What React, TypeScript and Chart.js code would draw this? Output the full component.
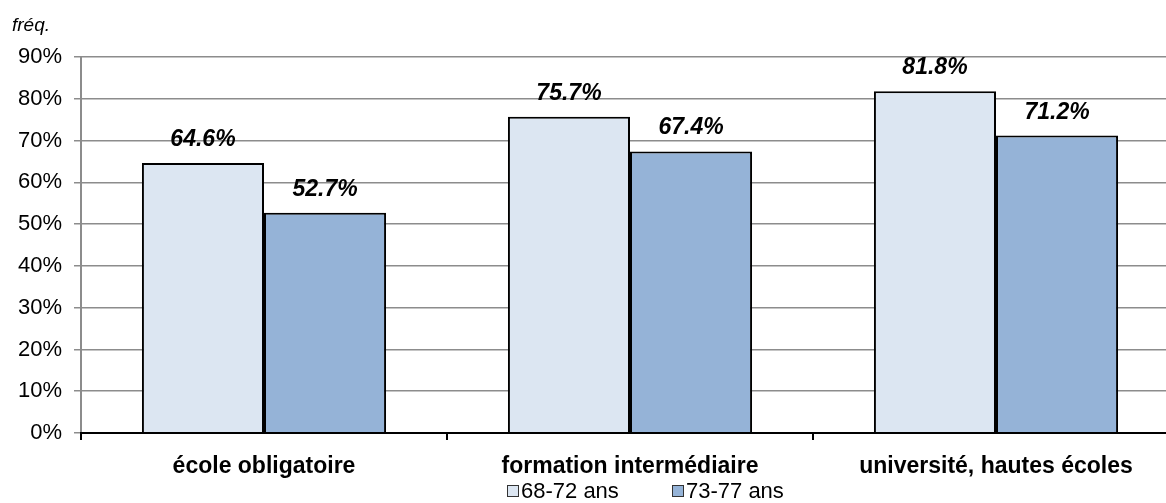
import React, { useEffect, useRef } from "react";
import { Chart, registerables } from "chart.js";

Chart.register(...registerables);

const categories = ["école obligatoire", "formation intermédiaire", "université, hautes écoles"];
const seriesNames = ["68-72 ans", "73-77 ans"];
const series1 = [64.6, 75.7, 81.8];
const series2 = [52.7, 67.4, 71.2];
const yTicks = [0, 10, 20, 30, 40, 50, 60, 70, 80, 90];
const colors = ["#DCE6F2", "#95B3D7"];
const FONT = "Arial, 'Liberation Sans', sans-serif";

const labelPlugin = {
  id: "barLabels",
  afterDatasetsDraw(chart: any) {
    const ctx = chart.ctx;
    ctx.save();
    ctx.font = `italic bold 23px ${FONT}`;
    ctx.fillStyle = "#000";
    ctx.textAlign = "center";
    ctx.textBaseline = "alphabetic";
    chart.data.datasets.forEach((ds: any, di: number) => {
      const meta = chart.getDatasetMeta(di);
      meta.data.forEach((el: any, i: number) => {
        const v = ds.data[i];
        ctx.fillText(v.toFixed(1) + "%", el.x, el.y - 17);
      });
    });
    ctx.restore();
  },
  afterDraw(chart: any) {
    const ctx = chart.ctx;
    ctx.save();
    // axis caption
    ctx.font = `italic 19px ${FONT}`;
    ctx.fillStyle = "#000";
    ctx.textAlign = "left";
    ctx.textBaseline = "middle";
    ctx.fillText("fréq.", 12, 26);
    // legend
    const boxXs = [507, 672];
    const cy = 491;
    ctx.font = `22px ${FONT}`;
    chart.data.datasets.forEach((ds: any, i: number) => {
      const bx = boxXs[i];
      ctx.fillStyle = ds.backgroundColor;
      ctx.fillRect(bx + 0.5, cy - 5.5, 11, 11);
      ctx.strokeStyle = "#333";
      ctx.lineWidth = 1;
      ctx.strokeRect(bx + 0.5, cy - 5.5, 11, 11);
      ctx.fillStyle = "#000";
      ctx.fillText(ds.label, bx + 14, cy + 1);
    });
    ctx.restore();
  },
};

export default function App() {
  const ref = useRef<HTMLCanvasElement>(null);
  useEffect(() => {
    document.body.style.margin = "0";
    const chart = new Chart(ref.current!, {
      type: "bar",
      data: {
        labels: categories,
        datasets: [
          {
            label: seriesNames[0],
            data: series1,
            backgroundColor: colors[0],
            borderColor: "#000",
            borderWidth: 2,
            barPercentage: 1,
            categoryPercentage: 0.667,
          },
          {
            label: seriesNames[1],
            data: series2,
            backgroundColor: colors[1],
            borderColor: "#000",
            borderWidth: 2,
            barPercentage: 1,
            categoryPercentage: 0.667,
          },
        ],
      },
      options: {
        animation: false,
        responsive: true,
        maintainAspectRatio: false,
        layout: { padding: { top: 57, right: 0, left: 0, bottom: 0 } },
        plugins: {
          tooltip: { enabled: false },
          legend: { display: false },
        },
        scales: {
          x: {
            grid: {
              display: true,
              drawOnChartArea: false,
              drawTicks: true,
              tickLength: 7,
              color: "#000",
              lineWidth: 2,
              offset: true,
            },
            border: { display: true, color: "#000", width: 2, z: 1 },
            ticks: {
              color: "#000",
              font: { family: FONT, size: 23, weight: "bold" },
              padding: 13,
              maxRotation: 0,
              autoSkip: false,
            },
            afterFit(scale: any) {
              scale.height = 503 - 433;
            },
          },
          y: {
            min: 0,
            max: 90,
            afterBuildTicks(scale: any) {
              scale.ticks = yTicks.map((v) => ({ value: v }));
            },
            grid: { color: "#8c8c8c", lineWidth: 1.5, tickLength: 7 },
            border: { display: true, color: "#8c8c8c", width: 2 },
            ticks: {
              color: "#000",
              font: { family: FONT, size: 22 },
              padding: 12,
              callback: (v: any) => v + "%",
            },
            afterFit(scale: any) {
              scale.width = 81;
            },
          },
        },
      },
      plugins: [labelPlugin],
    });
    return () => chart.destroy();
  }, []);
  return (
    <div style={{ position: "fixed", left: 0, top: 0, width: 1166, height: 503, overflow: "hidden", background: "#fff" }}>
      <div style={{ position: "absolute", left: 0, top: 0, width: 1179, height: 503 }}>
        <canvas ref={ref} />
      </div>
    </div>
  );
}
